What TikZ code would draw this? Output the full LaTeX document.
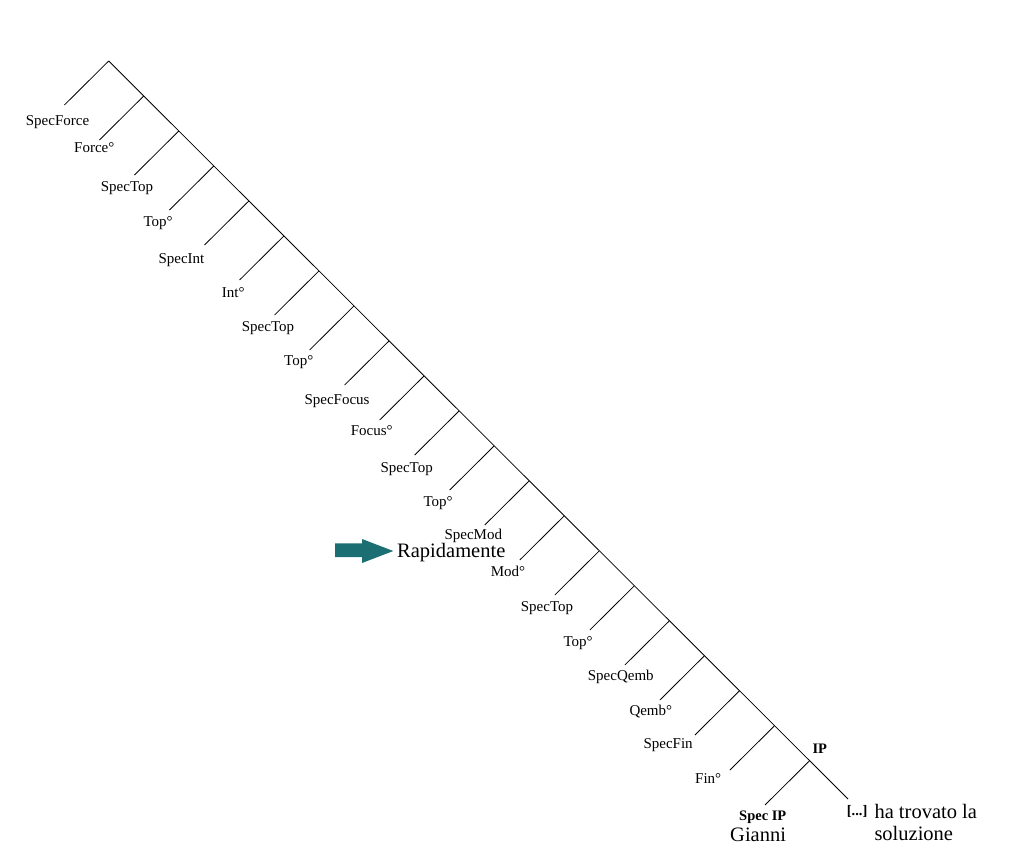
\documentclass[tikz,border=0pt]{standalone}
\usepackage{fontspec}
\setmainfont{Liberation Serif}
\definecolor{arrteal}{RGB}{27,111,114}
\tikzset{
  lab/.style={anchor=base west, inner sep=0pt, font=\fontsize{15}{18}\selectfont},
  blab/.style={anchor=base west, inner sep=0pt, font=\fontsize{14.5}{17}\selectfont\bfseries},
  big/.style={anchor=base west, inner sep=0pt, font=\fontsize{20.5}{24}\selectfont},
  edge/.style={draw=black, line width=0.8pt},
}
\begin{document}
\begin{tikzpicture}[x=1pt,y=-1pt]
\useasboundingbox (0,0) rectangle (1019,850);
% spine points and leaves
\foreach \i in {0,...,20}{
  \coordinate (n\i) at ({108.7+35.03*\i},{61+35*\i});
  \coordinate (l\i) at ({108.7+35.03*\i-44.3},{61+35*\i+44});
}
\coordinate (spineend) at (848,799);
\draw[edge] (n0) -- (spineend);
\foreach \i in {0,...,20}{
  \draw[edge] (n\i) -- (l\i);
}
% labels
\node[lab] (t0) at (25.7,125.5) {SpecForce};
\node[lab] (t1) at (74,153) {Force°};
\node[lab] (t2) at (100.7,191.5) {SpecTop};
\node[lab] (t3) at (143.3,226) {Top°};
\node[lab] (t4) at (158.3,263.3) {SpecInt};
\node[lab] (t5) at (221.7,297.7) {Int°};
\node[lab] (t6) at (241.7,331.7) {SpecTop};
\node[lab] (t7) at (284,365.7) {Top°};
\node[lab] (t8) at (304.3,404) {SpecFocus};
\node[lab] (t9) at (350.7,435) {Focus°};
\node[lab] (t10) at (380.3,472.3) {SpecTop};
\node[lab] (t11) at (423.3,506.7) {Top°};
\node[lab] (t12) at (444.3,539.5) {SpecMod};
\node[lab] (t13) at (490.7,576.7) {Mod°};
\node[lab] (t14) at (520.7,611.7) {SpecTop};
\node[lab] (t15) at (563.3,646.7) {Top°};
\node[lab] (t16) at (587.7,680) {SpecQemb};
\node[lab] (t17) at (629.3,715) {Qemb°};
\node[lab] (t18) at (643.3,748.3) {SpecFin};
\node[lab] (t19) at (695,783.3) {Fin°};
\node[blab] (t20) at (739,820) {Spec IP};
\node[blab] (ip) at (812.3,753.3) {IP};
\node[big] (gianni) at (730,841.7) {Gianni};
\node[blab] (dots) at (846.7,815) {[...]};
\node[big] (ha) at (874.3,818.3) {ha trovato la};
\node[big] (sol) at (874.3,840) {soluzione};
\node[big] (rap) at (397,557.3) {Rapidamente};
% block arrow
\fill[arrteal] (335,543.3) -- (362,543.3) -- (362,539) -- (393.3,551) -- (362,563) -- (362,557) -- (335,557) -- cycle;
\end{tikzpicture}
\end{document}
